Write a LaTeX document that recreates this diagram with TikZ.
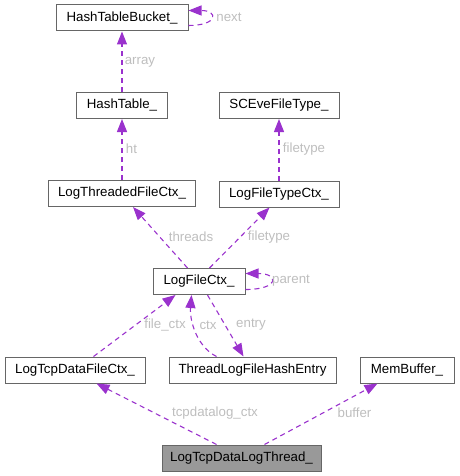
\documentclass[tikz,border=0pt]{standalone}
\usepackage{fontspec}
\setmainfont{Liberation Sans}
\usetikzlibrary{arrows.meta,calc}
\definecolor{edgecol}{HTML}{9A32CD}
\definecolor{boxline}{HTML}{666666}
\definecolor{lblcol}{HTML}{BEBEBE}
\definecolor{mainfill}{HTML}{999999}
\tikzset{
  cls/.style={draw=boxline, line width=1pt, fill=white, minimum height=26pt, inner sep=0pt, anchor=center, font=\fontsize{13.3}{15}\selectfont},
  mainc/.style={cls, fill=mainfill},
  edge/.style={draw=edgecol, line width=1.1pt, dash pattern=on 5pt off 4pt, -{Triangle[length=13pt,width=10pt]}},
  lbl/.style={text=lblcol, inner sep=0pt, anchor=center, font=\fontsize{13.3}{15}\selectfont}
}
\begin{document}
\begin{tikzpicture}[x=1pt,y=-1pt]
\useasboundingbox (0,0) rectangle (459,476);
% nodes
\node[cls, minimum width=132pt] (htb) at (122,18) {HashTableBucket\_};
\node[cls, minimum width=91pt] (ht) at (122,105.5) {HashTable\_};
\node[cls, minimum width=147pt] (ltfc) at (122,193.5) {LogThreadedFileCtx\_};
\node[cls, minimum width=120pt] (scev) at (279,105.5) {SCEveFileType\_};
\node[cls, minimum width=120pt] (lftc) at (279,194) {LogFileTypeCtx\_};
\node[cls, minimum width=92pt] (lfc) at (199,281.5) {LogFileCtx\_};
\node[cls, minimum width=140pt] (ltdfc) at (75,370) {LogTcpDataFileCtx\_};
\node[cls, minimum width=167pt] (tlfhe) at (252.5,370) {ThreadLogFileHashEntry};
\node[cls, minimum width=94pt] (mb) at (407,370) {MemBuffer\_};
\node[mainc, minimum width=159pt] (ltdlt) at (241.5,458) {LogTcpDataLogThread\_};
% edges
\draw[edge] ($(htb.south east)+(0,-6)$) .. controls +(30,0) and +(30,0) .. ($(htb.north east)+(0,6)$);
\draw[edge] (ht.north) -- (htb.south);
\draw[edge] (ltfc.north) -- (ht.south);
\draw[edge] (lftc.north) -- (scev.south);
\draw[edge] ($(lfc.north west)+(35,0)$) -- ($(ltfc.south west)+(85,0)$);
\draw[edge] ($(lfc.north west)+(57,0)$) -- ($(lftc.south west)+(51,0)$);
\draw[edge] ($(lfc.south east)+(0,-5.5)$) .. controls +(34,0) and +(34,0) .. ($(lfc.north east)+(0,5.5)$);
\draw[edge] ($(ltdfc.north west)+(89,0)$) -- ($(lfc.south west)+(23,0)$);
\draw[edge] ($(tlfhe.north west)+(48,0)$) .. controls +(-20,-10) and +(-2,25) .. ($(lfc.south west)+(39,0)$);
\draw[edge] ($(lfc.south west)+(55,0)$) -- ($(tlfhe.north west)+(75,0)$);
\draw[edge] ($(ltdlt.north west)+(55,0)$) -- ($(ltdfc.south west)+(92,0)$);
\draw[edge] ($(ltdlt.north west)+(103,0)$) -- ($(mb.south west)+(18,0)$);
% labels
\node[lbl] (lnext) at (229,17) {next};
\node[lbl] (larray) at (140,62) {array};
\node[lbl] (lht) at (131.5,149) {ht};
\node[lbl] (lft1) at (304,149) {filetype};
\node[lbl] (lthr) at (191,237) {threads};
\node[lbl] (lft2) at (269,237) {filetype};
\node[lbl] (lpar) at (291,281) {parent};
\node[lbl] (lfctx) at (165,325) {file\_ctx};
\node[lbl] (lctx) at (208,325) {ctx};
\node[lbl] (lentry) at (251,325) {entry};
\node[lbl] (ltcp) at (215,413) {tcpdatalog\_ctx};
\node[lbl] (lbuf) at (354.5,413) {buffer};
\end{tikzpicture}
\end{document}
